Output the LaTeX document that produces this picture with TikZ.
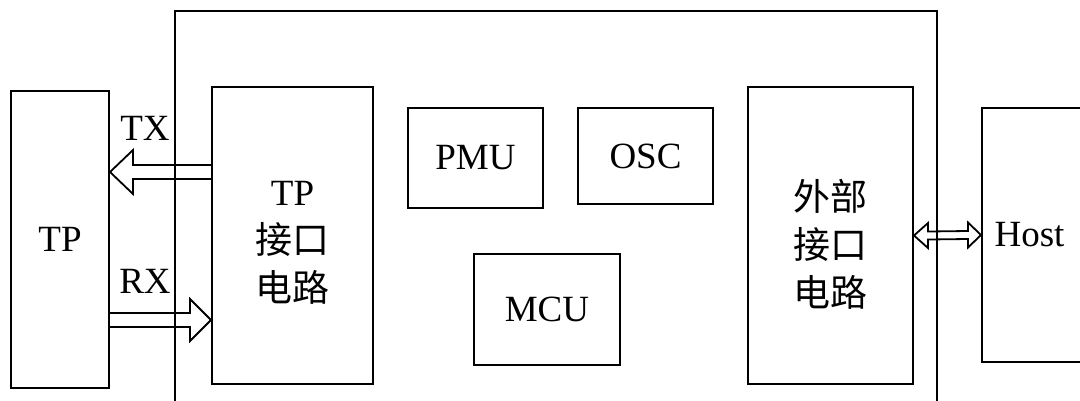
\documentclass[tikz,border=0pt]{standalone}
\usepackage{fontspec}
\setmainfont{Liberation Serif}
\newfontfamily\cjk{Noto Sans CJK SC}
\usepackage{tikz}
\usetikzlibrary{calc,positioning}

\begin{document}
\begin{tikzpicture}[
    x=1pt,
    y=-1pt,
    font=\fontsize{37}{48}\selectfont,
    block/.style={
        draw,
        line width=2pt,
        inner sep=0pt,
        align=center
    },
    hollow/.style={
        draw,
        line width=1.8pt,
        line join=miter
    }
]
    \useasboundingbox (0,0) rectangle (1080,400);

    % chip outline, open at the bottom
    \node[block, minimum width=762, minimum height=489] (chip) at (556,255.5) {};

    \node[block, minimum width=98, minimum height=297] (tp) at (60,239.5) {TP};

    \node[block, minimum width=161, minimum height=297] (tpif) at (292.5,235.5) {};
    \node[align=center] (tpiftxt) at ([yshift=-7pt]tpif.center)
        {TP\\{\cjk 接口}\\{\cjk 电路}};

    \node[block, minimum width=135, minimum height=100] (pmu) at (475.5,158) {PMU};
    \node[block, minimum width=135, minimum height=96] (osc) at (645.5,156) {OSC};
    \node[block, minimum width=146, minimum height=111] (mcu) at (547,309.5) {MCU};

    \node[block, minimum width=165, minimum height=297] (ext) at (830.5,235.5) {};
    \node[align=center] (exttxt) at ([yshift=-9pt]ext.center)
        {{\cjk 外部}\\{\cjk 接口}\\{\cjk 电路}};

    % host box, open at the right
    \node[block, minimum width=200, minimum height=254] (host) at (1082,235) {};
    \node[anchor=west] (hostlbl) at ([xshift=10pt]host.west) {Host};

    \node (txl) at (145,128) {TX};
    \node (rxl) at (145,281) {RX};

    \coordinate (txs) at ([yshift=63.5pt]tpif.west);
    \coordinate (txe) at (tp.east |- txs);
    \coordinate (rxe) at ([yshift=-84.5pt]tpif.west);
    \coordinate (rxs) at (tp.east |- rxe);

    \draw[hollow] ($(txs)+(0,-7)$) -- ($(txe)+(23,-7)$) -- ($(txe)+(23,-22)$)
        -- (txe) -- ($(txe)+(23,22)$) -- ($(txe)+(23,7)$) -- ($(txs)+(0,7)$);

    \draw[hollow] ($(rxs)+(0,-7)$) -- ($(rxe)+(-21,-7)$) -- ($(rxe)+(-21,-21)$)
        -- (rxe) -- ($(rxe)+(-21,21)$) -- ($(rxe)+(-21,7)$) -- ($(rxs)+(0,7)$);

    \draw[hollow] (ext.east) -- ($(ext.east)+(14,-12.5)$) -- ($(ext.east)+(14,-4)$)
        -- ($(host.west)+(-13,-4)$) -- ($(host.west)+(-13,-12.5)$) -- (host.west)
        -- ($(host.west)+(-13,12.5)$) -- ($(host.west)+(-13,4)$)
        -- ($(ext.east)+(14,4)$) -- ($(ext.east)+(14,12.5)$) -- cycle;

\end{tikzpicture}
\end{document}
